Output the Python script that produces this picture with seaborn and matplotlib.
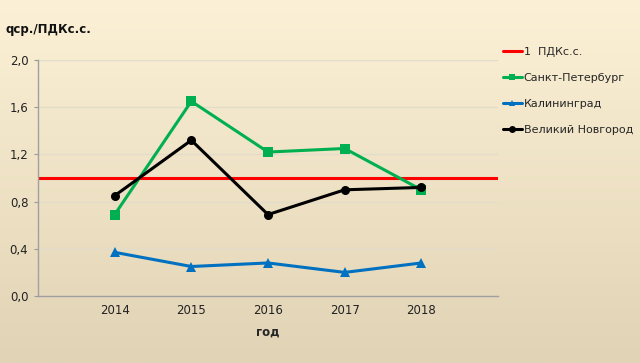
import matplotlib
matplotlib.use('Agg')
import matplotlib.pyplot as plt
import seaborn as sns
import pandas as pd
import numpy as np

years = ['2014', '2015', '2016', '2017', '2018']
spb = [0.69, 1.65, 1.22, 1.25, 0.90]
kaliningrad = [0.37, 0.25, 0.28, 0.20, 0.28]
novgorod = [0.85, 1.32, 0.69, 0.90, 0.92]
pdk = 1.0

names = ['Санкт-Петербург', 'Калининград', 'Великий Новгород']
colors = ['#00b050', '#0070c0', '#000000']
markers = ['s', '^', 'o']

df = pd.DataFrame({
    'pos': list(range(1, 6)) * 3,
    'value': spb + kaliningrad + novgorod,
    'city': [n for n in names for _ in years],
})

sns.set_style('white')
plt.rcParams['font.family'] = ['DejaVu Sans']

fig = plt.figure(figsize=(6.4, 3.63), dpi=100)

# background gradient
bg = fig.add_axes([0, 0, 1, 1], zorder=-10)
top = np.array([252, 241, 214]) / 255
bot = np.array([225, 211, 181]) / 255
t = np.linspace(0, 1, 256)[:, None]
grad = (top * (1 - t) + bot * t)[:, None, :]
bg.imshow(grad, aspect='auto', extent=[0, 1, 0, 1])
bg.axis('off')

ax = fig.add_axes([38 / 640, 1 - 296 / 363, 460 / 640, 236 / 363])
ax.patch.set_alpha(0)

ax.axhline(pdk, color='#ff0000', lw=2.2, label='1  ПДКс.с.', zorder=2)
sns.lineplot(data=df, x='pos', y='value', hue='city', style='city',
             palette=colors, markers=markers, dashes=False, lw=2.2,
             markersize=6.5, markeredgewidth=0, ax=ax, zorder=3)

ax.set_xlim(0, 6)
ax.set_ylim(0, 2.0)
ax.set_xticks(range(1, 6))
ax.set_xticklabels(years)
yt = np.arange(0, 2.01, 0.4)
ax.set_yticks(yt)
ax.set_yticklabels([f'{v:.1f}'.replace('.', ',') for v in yt])
ax.tick_params(axis='both', labelsize=8.5, colors='#222222')
ax.tick_params(axis='x', length=0, pad=6)
ax.tick_params(axis='y', length=3, color='#999999', direction='out', left=True, pad=4)
ax.grid(axis='y', color='#e2dccb', lw=1)
for s in ['top', 'right']:
    ax.spines[s].set_visible(False)
for s in ['left', 'bottom']:
    ax.spines[s].set_color('#a0a0a0')
    ax.spines[s].set_linewidth(1)

ax.set_xlabel('год', fontsize=8.5, fontweight='bold', labelpad=6)
ax.set_ylabel('')
fig.text(5 / 640, 1 - 29 / 363, 'qср./ПДКс.с.', fontsize=8.5, fontweight='bold',
         va='center', ha='left', color='#111111')

handles, labels = ax.get_legend_handles_labels()
for h in handles:
    h.set_markersize(5)
leg = ax.legend(handles, labels, loc='upper left', bbox_to_anchor=(503 / 640, 1 - 47 / 363),
                bbox_transform=fig.transFigure, frameon=False, fontsize=8,
                handlelength=1.7, handletextpad=0.15, labelspacing=1.45, borderaxespad=0,
                borderpad=0)

fig.savefig('out.png', dpi=100)
